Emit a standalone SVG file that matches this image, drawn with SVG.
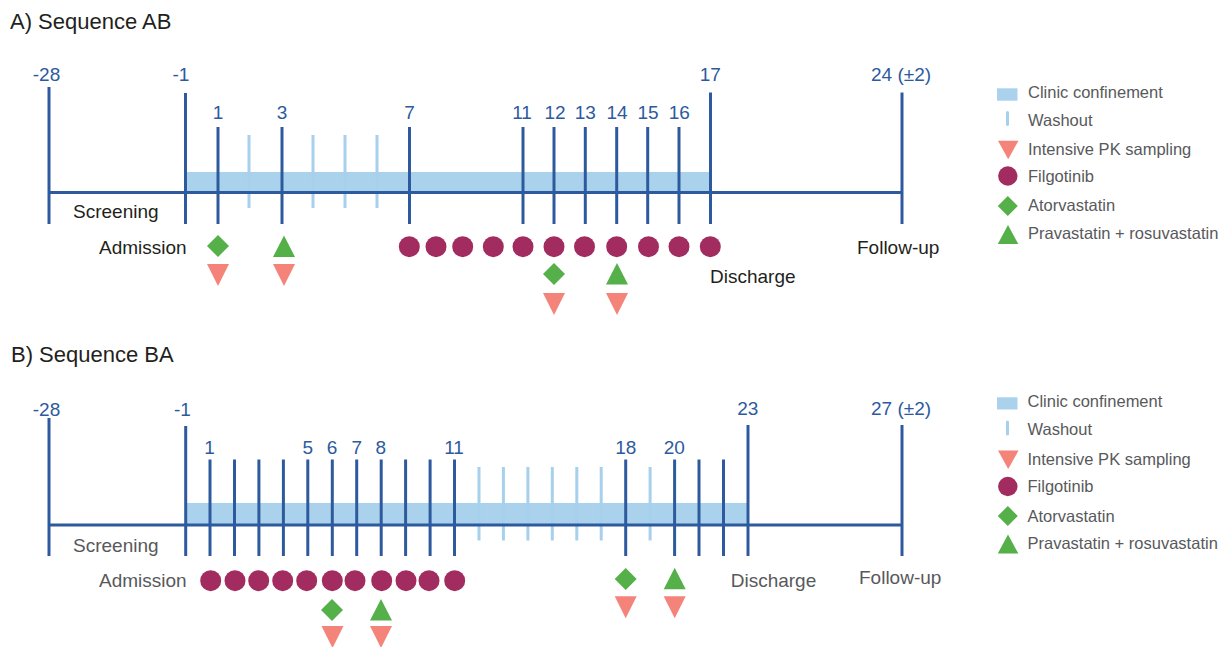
<svg xmlns="http://www.w3.org/2000/svg" width="1220" height="647" viewBox="0 0 1220 647">
<defs>
<style>
.t{font-family:"Liberation Sans",Arial,sans-serif}
.title{font-size:22px;fill:#231f20}
.num{font-size:19px;fill:#2d5a9e;text-anchor:middle}
.lblA{font-size:19px;fill:#231f20}
.lblB{font-size:19px;fill:#58595b}
.leg{font-size:16.5px;fill:#58595b}
.ax{stroke:#2d5a9e;stroke-width:3;fill:none}
.tk{stroke:#2d5a9e;stroke-width:3}
.wo{stroke:#a6d0ec;stroke-width:3}
.band{fill:#aad2ec}
.fil{fill:#a22b5f}
.grn{fill:#55b04a}
.pk{fill:#f4847a}
</style>
<circle id="dot" r="10.5" class="fil"/>
<polygon id="dia" points="0,-11 11,0 0,11 -11,0" class="grn"/>
<polygon id="up" points="0,-11 11,10.5 -11,10.5" class="grn"/>
<polygon id="dn" points="-11,-11 11,-11 0,11" class="pk"/>
</defs>

<text class="t title" x="10" y="29">A) Sequence AB</text>
<text class="t title" x="11" y="362">B) Sequence BA</text>

<!-- Panel A -->
<g id="panelA">
<g id="A-band"><rect class="band" x="186" y="172" width="525" height="20"/></g>
<g id="A-washout">
<line class="wo" x1="249" y1="135" x2="249" y2="208"/>
<line class="wo" x1="313" y1="135" x2="313" y2="208"/>
<line class="wo" x1="345" y1="135" x2="345" y2="208"/>
<line class="wo" x1="377" y1="135" x2="377" y2="208"/>
</g>
<g id="A-axis">
<line class="ax" x1="49" y1="192.5" x2="902" y2="192.5"/>
<line class="tk" x1="49" y1="87" x2="49" y2="224"/>
<line class="tk" x1="185.5" y1="93" x2="185.5" y2="224"/>
<line class="tk" x1="218" y1="127" x2="218" y2="224"/>
<line class="tk" x1="282" y1="127" x2="282" y2="224"/>
<line class="tk" x1="409.5" y1="127" x2="409.5" y2="224"/>
<line class="tk" x1="523" y1="127" x2="523" y2="224"/>
<line class="tk" x1="554" y1="127" x2="554" y2="224"/>
<line class="tk" x1="585.3" y1="127" x2="585.3" y2="224"/>
<line class="tk" x1="616.7" y1="127" x2="616.7" y2="224"/>
<line class="tk" x1="647.7" y1="127" x2="647.7" y2="224"/>
<line class="tk" x1="679" y1="127" x2="679" y2="224"/>
<line class="tk" x1="710.5" y1="92.5" x2="710.5" y2="224"/>
<line class="tk" x1="902" y1="92.5" x2="902" y2="224"/>
</g>
<g id="A-numbers" class="t">
<text class="num" x="46.5" y="81">-28</text>
<text class="num" x="181" y="81">-1</text>
<text class="num" x="218" y="118.5">1</text>
<text class="num" x="282" y="118.5">3</text>
<text class="num" x="409.5" y="118.5">7</text>
<text class="num" x="522" y="118.5">11</text>
<text class="num" x="555" y="118.5">12</text>
<text class="num" x="585.3" y="118.5">13</text>
<text class="num" x="617" y="118.5">14</text>
<text class="num" x="648" y="118.5">15</text>
<text class="num" x="679.3" y="118.5">16</text>
<text class="num" x="710.3" y="81">17</text>
<text class="num" x="901" y="81">24 (±2)</text>
</g>
<g id="A-labels" class="t">
<text class="lblA" x="73" y="218">Screening</text>
<text class="lblA" x="99" y="254">Admission</text>
<text class="lblA" x="710" y="282.5">Discharge</text>
<text class="lblA" x="857" y="253.5">Follow-up</text>
</g>
<g id="A-filgotinib">
<use href="#dot" x="409.3" y="246.7"/>
<use href="#dot" x="436" y="246.7"/>
<use href="#dot" x="462.7" y="246.7"/>
<use href="#dot" x="493.3" y="246.7"/>
<use href="#dot" x="523" y="246.7"/>
<use href="#dot" x="554" y="246.7"/>
<use href="#dot" x="584.5" y="246.7"/>
<use href="#dot" x="616.7" y="246.7"/>
<use href="#dot" x="648.5" y="246.7"/>
<use href="#dot" x="679" y="246.7"/>
<use href="#dot" x="710.3" y="246.7"/>
</g>
<g id="A-statins">
<use href="#dia" x="218" y="246"/>
<use href="#up" x="284" y="246.5"/>
<use href="#dia" x="554" y="274"/>
<use href="#up" x="617" y="274"/>
</g>
<g id="A-pk">
<use href="#dn" x="218" y="275"/>
<use href="#dn" x="284" y="275"/>
<use href="#dn" x="554" y="304"/>
<use href="#dn" x="617" y="304"/>
</g>
</g>

<g id="legendA">
<rect class="band" x="997" y="88.3" width="20.5" height="12.4"/>
<line class="wo" x1="1007.5" y1="112.5" x2="1007.5" y2="124.5" stroke-linecap="round"/>
<polygon class="pk" points="998,140.7 1018.5,140.7 1008.2,159.3"/>
<circle class="fil" cx="1007.8" cy="176" r="9.7"/>
<polygon class="grn" points="1007.8,196 1017.8,206 1007.8,216 997.8,206"/>
<polygon class="grn" points="1008,225 1018.3,244 997.8,244"/>
<g class="t leg">
<text x="1028" y="98.3">Clinic confinement</text>
<text x="1028" y="126">Washout</text>
<text x="1028" y="155">Intensive PK sampling</text>
<text x="1028" y="181.7">Filgotinib</text>
<text x="1028" y="210.7">Atorvastatin</text>
<text x="1028" y="239.3">Pravastatin + rosuvastatin</text>
</g>
</g>

<!-- Panel B -->
<g id="panelB">
<g id="B-band"><rect class="band" x="186" y="503" width="562" height="22"/></g>
<g id="B-washout">
<line class="wo" x1="479" y1="467" x2="479" y2="540.5"/>
<line class="wo" x1="503.4" y1="467" x2="503.4" y2="540.5"/>
<line class="wo" x1="527.9" y1="467" x2="527.9" y2="540.5"/>
<line class="wo" x1="552.3" y1="467" x2="552.3" y2="540.5"/>
<line class="wo" x1="576.8" y1="467" x2="576.8" y2="540.5"/>
<line class="wo" x1="601.2" y1="467" x2="601.2" y2="540.5"/>
<line class="wo" x1="650.1" y1="467" x2="650.1" y2="540.5"/>
</g>
<g id="B-axis">
<line class="ax" x1="49" y1="525" x2="902" y2="525"/>
<line class="tk" x1="49" y1="418" x2="49" y2="556"/>
<line class="tk" x1="185.7" y1="426" x2="185.7" y2="556"/>
<line class="tk" x1="210" y1="459.5" x2="210" y2="556"/>
<line class="tk" x1="234.5" y1="459.5" x2="234.5" y2="556"/>
<line class="tk" x1="258.9" y1="459.5" x2="258.9" y2="556"/>
<line class="tk" x1="283.4" y1="459.5" x2="283.4" y2="556"/>
<line class="tk" x1="307.8" y1="459.5" x2="307.8" y2="556"/>
<line class="tk" x1="332.3" y1="459.5" x2="332.3" y2="556"/>
<line class="tk" x1="356.7" y1="459.5" x2="356.7" y2="556"/>
<line class="tk" x1="381.2" y1="459.5" x2="381.2" y2="556"/>
<line class="tk" x1="405.6" y1="459.5" x2="405.6" y2="556"/>
<line class="tk" x1="430.1" y1="459.5" x2="430.1" y2="556"/>
<line class="tk" x1="454.5" y1="459.5" x2="454.5" y2="556"/>
<line class="tk" x1="625.7" y1="459.5" x2="625.7" y2="556"/>
<line class="tk" x1="674.6" y1="459.5" x2="674.6" y2="556"/>
<line class="tk" x1="699" y1="459.5" x2="699" y2="556"/>
<line class="tk" x1="723.5" y1="459.5" x2="723.5" y2="556"/>
<line class="tk" x1="748" y1="425" x2="748" y2="556"/>
<line class="tk" x1="902" y1="425" x2="902" y2="556"/>
</g>
<g id="B-numbers" class="t">
<text class="num" x="46.5" y="416">-28</text>
<text class="num" x="182.5" y="416">-1</text>
<text class="num" x="209.5" y="453.5">1</text>
<text class="num" x="307.7" y="453.5">5</text>
<text class="num" x="332" y="453.5">6</text>
<text class="num" x="356.7" y="453.5">7</text>
<text class="num" x="380.7" y="453.5">8</text>
<text class="num" x="454" y="453.5">11</text>
<text class="num" x="625.7" y="453.5">18</text>
<text class="num" x="674.3" y="453.5">20</text>
<text class="num" x="747.7" y="415">23</text>
<text class="num" x="901" y="415">27 (±2)</text>
</g>
<g id="B-labels" class="t">
<text class="lblB" x="73" y="551.7">Screening</text>
<text class="lblB" x="99" y="586.7">Admission</text>
<text class="lblB" x="730.7" y="586.7">Discharge</text>
<text class="lblB" x="859" y="584">Follow-up</text>
</g>
<g id="B-filgotinib">
<use href="#dot" x="210.7" y="580.7"/>
<use href="#dot" x="235" y="580.7"/>
<use href="#dot" x="258.7" y="580.7"/>
<use href="#dot" x="282.7" y="580.7"/>
<use href="#dot" x="306.7" y="580.7"/>
<use href="#dot" x="332.3" y="580.7"/>
<use href="#dot" x="355" y="580.7"/>
<use href="#dot" x="381.7" y="580.7"/>
<use href="#dot" x="406" y="580.7"/>
<use href="#dot" x="429" y="580.7"/>
<use href="#dot" x="454.7" y="580.7"/>
</g>
<g id="B-statins">
<use href="#dia" x="332" y="610"/>
<use href="#up" x="381" y="610"/>
<use href="#dia" x="625.7" y="579"/>
<use href="#up" x="674.7" y="578.7"/>
</g>
<g id="B-pk">
<use href="#dn" x="332.5" y="637"/>
<use href="#dn" x="381" y="637"/>
<use href="#dn" x="625.7" y="607.2"/>
<use href="#dn" x="674.7" y="607.2"/>
</g>
</g>

<g id="legendB">
<rect class="band" x="997" y="397.3" width="20.5" height="12.2"/>
<line class="wo" x1="1007.5" y1="422" x2="1007.5" y2="434" stroke-linecap="round"/>
<polygon class="pk" points="998,450.5 1018.5,450.5 1008.2,469"/>
<circle class="fil" cx="1007.8" cy="486.5" r="9.7"/>
<polygon class="grn" points="1007.8,506 1017.8,516 1007.8,526 997.8,516"/>
<polygon class="grn" points="1008,534.5 1018.3,553.5 997.8,553.5"/>
<g class="t leg">
<text x="1027.5" y="407.3">Clinic confinement</text>
<text x="1027.5" y="435">Washout</text>
<text x="1027.5" y="465">Intensive PK sampling</text>
<text x="1027.5" y="492.3">Filgotinib</text>
<text x="1027.5" y="521.7">Atorvastatin</text>
<text x="1027.5" y="549.3">Pravastatin + rosuvastatin</text>
</g>
</g>
</svg>
